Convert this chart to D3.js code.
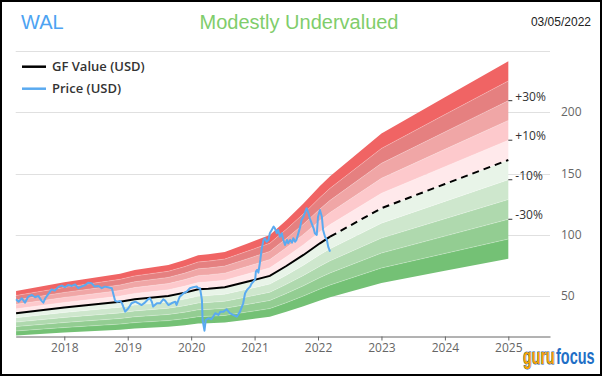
<!DOCTYPE html>
<html>
<head>
<meta charset="utf-8">
<title>WAL GF Value Chart</title>
<style>
  body { margin: 0; background: #fff; }
  svg { display: block; font-family: "Open Sans", sans-serif; }
  .axis text { font-size: 12px; fill: #666; font-family: "Open Sans", sans-serif; }
  .axis path, .axis line { stroke: #666; }
</style>
</head>
<body>
<div id="chart"></div>
<script src="https://d3js.org/d3.v7.min.js"></script>
<script>
// GF Value (USD), solid up to the last actual date, projected after
const gfYears = [2017.24, 2018.0, 2018.88, 2019.11, 2019.64, 2019.90, 2020.11, 2020.27, 2020.53,
  2020.88, 2021.24, 2021.50, 2021.77, 2022.03, 2022.19, 2023.0, 2024.0, 2025.0];
const gfValues = [36.2, 40.9, 45.6, 47.6, 50.3, 53.0, 55.7, 56.2, 57.4,
  61.9, 66.6, 74.7, 83.7, 93.2, 98.6, 121.8, 141.5, 161.1];
const lastActualYear = 2022.19;

// Price (USD)
const priceYears = [
  2017.24,2017.28,2017.33,2017.38,2017.43,2017.49,2017.54,2017.59,2017.64,2017.67,2017.70,2017.75,2017.80,2017.85,2017.91,2017.96,
  2018.01,2018.06,2018.12,2018.17,2018.22,2018.27,2018.33,2018.38,2018.43,2018.48,2018.54,2018.59,2018.64,2018.69,2018.75,2018.77,2018.80,2018.83,2018.88,2018.91,2018.96,
  2019.01,2019.06,2019.12,2019.17,2019.22,2019.27,2019.32,2019.35,2019.38,2019.40,2019.46,2019.51,2019.56,2019.59,2019.64,2019.69,2019.75,2019.77,2019.80,2019.82,2019.88,2019.93,2019.98,
  2020.03,2020.09,2020.11,2020.14,2020.17,2020.18,2020.21,2020.23,2020.27,2020.32,2020.38,2020.43,2020.46,2020.51,2020.56,2020.61,2020.66,2020.72,2020.77,2020.82,2020.85,2020.88,2020.93,2020.95,2020.98,
  2021.01,2021.02,2021.04,2021.06,2021.09,2021.11,2021.14,2021.16,2021.19,2021.22,2021.24,2021.27,2021.30,2021.32,2021.35,2021.37,2021.40,2021.43,2021.45,2021.48,2021.51,2021.53,2021.56,2021.59,2021.61,2021.64,2021.66,2021.72,2021.74,2021.77,2021.80,2021.82,2021.85,2021.87,2021.90,2021.93,2021.95,2021.98,
  2022.00,2022.03,2022.06,2022.08,2022.11,2022.14,2022.16,2022.19];
const priceValues = [
  47.6,45.6,48.4,44.8,49.7,51.1,49.2,50.3,46.5,44.8,48.4,51.9,55.7,54.6,57.9,58.7,
  57.4,59.2,58.4,59.8,56.6,57.9,59.2,61.1,60.6,57.9,58.4,56.6,57.9,57.4,56.6,52.5,46.5,45.6,46.2,44.3,37.5,
  40.3,44.3,45.6,44.3,42.9,44.8,47.6,48.4,45.6,41.6,44.3,44.3,47.6,46.5,42.9,44.3,45.6,42.9,47.0,49.7,52.5,53.8,56.6,
  57.4,57.9,56.6,56.6,47.0,30.7,22.0,30.7,32.1,31.3,36.2,34.8,37.5,37.5,39.4,36.2,34.8,33.4,37.5,44.3,52.5,55.2,57.9,60.1,61.9,
  63.9,70.1,71.5,69.3,79.6,87.8,95.9,97.3,94.5,95.9,101.4,104.1,106.8,105.4,101.4,104.1,98.6,101.4,96.5,91.8,95.9,93.2,95.9,93.7,97.3,94.5,95.9,106.8,112.2,114.9,119.0,121.8,117.7,113.6,109.5,105.4,101.4,100.0,
  114.9,120.4,114.9,104.1,98.6,95.9,90.5,86.4];

// band edges relative to GF Value, and the ones that get a label
const bandSteps = [-0.5, -0.4, -0.3, -0.2, -0.1, 0, 0.1, 0.2, 0.3, 0.4, 0.5];
const bandColors = ["#74c175", "#93cd92", "#afd9ae", "#cee7cd", "#e8f4e8",
  "#ffe9eb", "#fdc9cc", "#f0a6a6", "#e58080", "#f06464"];
const bandLabels = ["+30%", "+10%", "-10%", "-30%"];
const bandLabelSteps = [0.3, 0.1, -0.1, -0.3];

const xTicks = [2018, 2019, 2020, 2021, 2022, 2023, 2024, 2025];
const yGrid = [50, 100, 150, 200, 250];
const yLabels = [50, 100, 150, 200];

const width = 602, height = 376;

const svg = d3.select("#chart").append("svg")
  .attr("width", width)
  .attr("height", height);

svg.append("rect")
  .attr("x", 1).attr("y", 1)
  .attr("width", width - 2).attr("height", height - 2)
  .attr("fill", "#fff").attr("stroke", "#000").attr("stroke-width", 2);

// scales
const x = d3.scaleLinear().domain([2017.234, 2025.657]).range([15.7, 550]);
const y = d3.scaleLinear().domain([17.4, 250]).range([336.3, 50.9]);

// gridlines
svg.append("g").selectAll("line")
  .data(yGrid)
  .join("line")
  .attr("x1", 15.7).attr("x2", 550)
  .attr("y1", d => Math.round(y(d)) + 0.5).attr("y2", d => Math.round(y(d)) + 0.5)
  .attr("stroke", "#e0e0e0");

svg.append("g").selectAll("text")
  .data(yLabels)
  .join("text")
  .attr("x", 561)
  .attr("y", d => y(d) + 4)
  .attr("font-size", 12)
  .attr("fill", "#666")
  .text(d => d);

// valuation bands
const gfData = gfYears.map((t, i) => ({ t, v: gfValues[i] }));
const bands = svg.append("g");
bandColors.forEach((c, i) => {
  const lo = 1 + bandSteps[i], hi = 1 + bandSteps[i + 1];
  bands.append("path")
    .datum(gfData)
    .attr("fill", c)
    .attr("d", d3.area()
      .x(d => x(d.t))
      .y0(d => y(d.v * lo))
      .y1(d => y(d.v * hi)));
});
// faint separators between bands
bandSteps.slice(1, -1).forEach(s => {
  bands.append("path")
    .datum(gfData)
    .attr("fill", "none")
    .attr("stroke", "#fff")
    .attr("stroke-opacity", 0.35)
    .attr("stroke-width", 0.7)
    .attr("d", d3.line().x(d => x(d.t)).y(d => y(d.v * (1 + s))));
});

// band labels at the right end
const endGf = gfValues[gfValues.length - 1];
const endX = x(gfYears[gfYears.length - 1]);
bandLabels.forEach((lab, i) => {
  const yy = y(endGf * (1 + bandLabelSteps[i]));
  svg.append("line")
    .attr("x1", endX).attr("x2", endX + 4)
    .attr("y1", yy).attr("y2", yy)
    .attr("stroke", "#333");
  svg.append("text")
    .attr("x", endX + 7)
    .attr("y", yy)
    .attr("font-size", 12)
    .attr("fill", "#333")
    .text(lab);
});

// x axis
svg.append("g")
  .attr("class", "axis")
  .attr("transform", "translate(0,336.5)")
  .call(d3.axisBottom(x).tickValues(xTicks).tickFormat(d3.format("d")).tickSize(4).tickSizeOuter(0).tickPadding(3));

// GF Value line
const gfLine = d3.line().x(d => x(d.t)).y(d => y(d.v));
svg.append("path")
  .datum(gfData.filter(d => d.t <= lastActualYear))
  .attr("fill", "none")
  .attr("stroke", "#000")
  .attr("stroke-width", 2)
  .attr("d", gfLine);
svg.append("path")
  .datum(gfData.filter(d => d.t >= lastActualYear))
  .attr("fill", "none")
  .attr("stroke", "#000")
  .attr("stroke-width", 2)
  .attr("stroke-dasharray", "7,5")
  .attr("d", gfLine);

// price line
const priceData = priceYears.map((t, i) => ({ t, v: priceValues[i] }));
svg.append("path")
  .datum(priceData)
  .attr("fill", "none")
  .attr("stroke", "#5aaaf0")
  .attr("stroke-width", 2)
  .attr("stroke-linejoin", "round")
  .attr("d", d3.line().x(d => x(d.t)).y(d => y(d.v)));

// header
svg.append("text")
  .attr("x", 21).attr("y", 29)
  .attr("font-family", "Liberation Sans, Arial, sans-serif")
  .attr("font-size", 20)
  .attr("fill", "#4da3f2")
  .text("WAL");
svg.append("text")
  .attr("x", 299).attr("y", 29)
  .attr("text-anchor", "middle")
  .attr("font-family", "Liberation Sans, Arial, sans-serif")
  .attr("font-size", 20)
  .attr("fill", "#7fcd6b")
  .text("Modestly Undervalued");
svg.append("text")
  .attr("x", 591).attr("y", 25.5)
  .attr("text-anchor", "end")
  .attr("font-family", "Liberation Sans, Arial, sans-serif")
  .attr("font-size", 12)
  .attr("fill", "#222")
  .text("03/05/2022");

// legend
const legend = [["GF Value (USD)", "#000", 66.7], ["Price (USD)", "#5aaaf0", 88.7]];
legend.forEach(([lab, col, ly]) => {
  svg.append("line")
    .attr("x1", 22).attr("x2", 46)
    .attr("y1", ly).attr("y2", ly)
    .attr("stroke", col).attr("stroke-width", 2.5);
  svg.append("text")
    .attr("x", 52).attr("y", ly + 4.5)
    .attr("font-size", 13)
    .attr("font-weight", 600)
    .attr("fill", "#333")
    .text(lab);
});

// logo: narrow glyphs stretched vertically
svg.append("text")
  .attr("transform", "translate(523,364) scale(1,1.5)")
  .attr("font-family", "Liberation Sans, Arial, sans-serif")
  .attr("font-weight", "bold")
  .attr("font-size", 14.3)
  .attr("fill", "#f5a300")
  .attr("stroke", "#1b5fae")
  .attr("stroke-width", 0.7)
  .attr("paint-order", "stroke")
  .text("guru");
svg.append("text")
  .attr("transform", "translate(556,364) scale(1,1.5)")
  .attr("font-family", "Liberation Sans, Arial, sans-serif")
  .attr("font-weight", "bold")
  .attr("font-size", 14.5)
  .attr("fill", "#1f6fc6")
  .text("focus");
</script>
</body>
</html>
